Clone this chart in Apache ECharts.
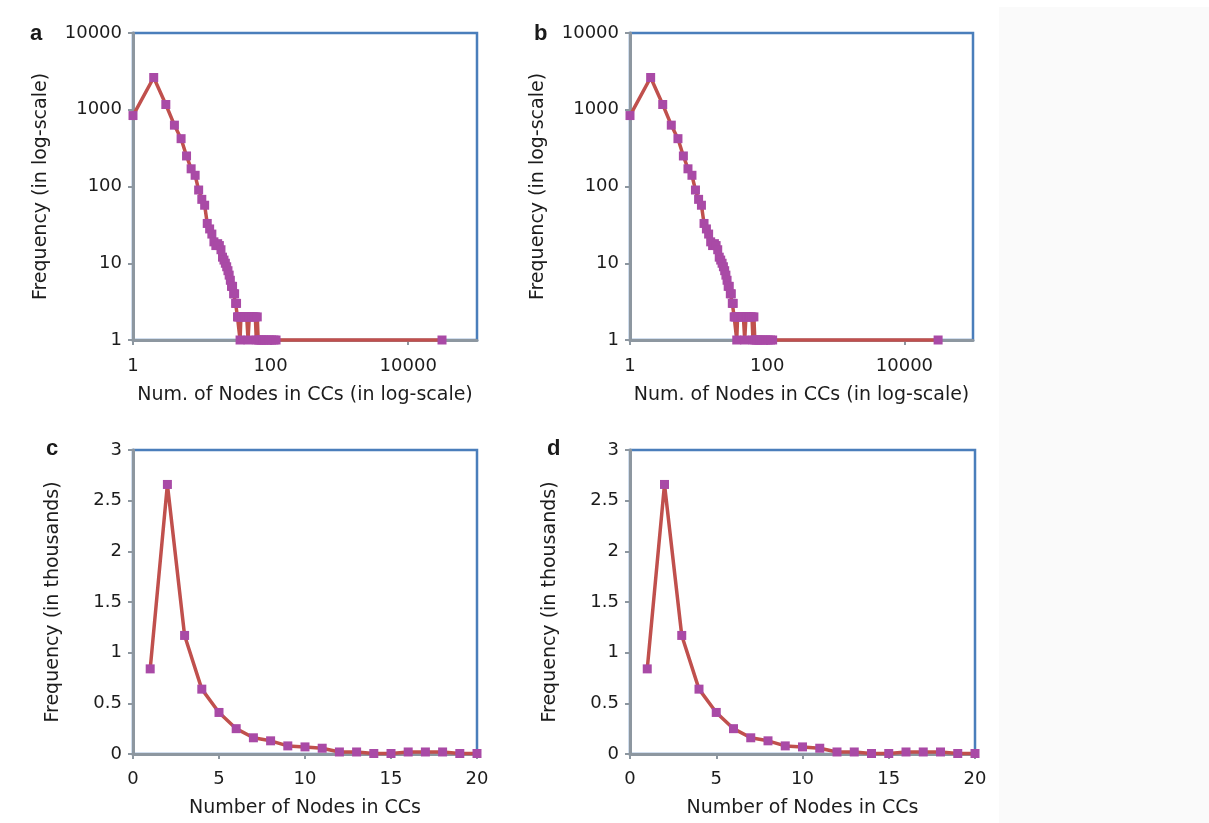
<!DOCTYPE html>
<html><head><meta charset="utf-8">
<script src="https://cdn.jsdelivr.net/npm/echarts@6/dist/echarts.min.js"></script>
<style>
html,body{margin:0;padding:0;background:#fff;}
#bg{position:absolute;left:999px;top:7px;width:210px;height:816px;background:#fafafa;}
#chart{position:absolute;left:0;top:0;width:1209px;height:823px;}
</style></head>
<body><div id="bg"></div><div id="chart"></div>
<script>
// ---- data ----
const logSizes = [1,2,3,4,5,6,7,8,9,10,11,12,13,14,15,16,17,18,19,20,21,22,23,24,25,26,27,28,29,30,31,32,
  33,34,35,36,37,39,41,43,45,47,49,51,54,57,60,62,64,66,70,74,78,83,88,95,103,112,120,31000];
const logFreq = [840,2630,1170,630,420,250,170,140,90,68,57,33,28,24,19,17,18,17,15,12,11,10,9,8,7,6,5,5,4,4,3,3,
  2,2,2,1,2,2,2,2,2,1,2,2,2,2,2,1,2,1,1,1,1,1,1,1,1,1,1,1];
const linSizes = [1,2,3,4,5,6,7,8,9,10,11,12,13,14,15,16,17,18,19,20];
const linFreqThousands = [0.84,2.66,1.17,0.64,0.41,0.25,0.16,0.13,0.08,0.07,0.057,0.02,0.02,0.005,0.005,0.02,0.02,0.02,0.005,0.005];
const panelLetters = ['a','b','c','d'];
const logXName = 'Num. of Nodes in CCs (in log-scale)';
const logYName = 'Frequency (in log-scale)';
const linXName = 'Number of Nodes in CCs';
const linYName = 'Frequency (in thousands)';

// ---- styling ----
const FONT = 'DejaVu Sans';
const AXIS_GRAY = '#8d97a0';
const BLUE = '#4a7ebb';
const LINE_RED = '#c0504d';
const MARK = '#a94aa6';
const TXT = '#1c1c1c';

const grids = [
  {left:133, top:33, width:344, height:307},
  {left:630, top:33, width:343, height:307},
  {left:133, top:450, width:344, height:304},
  {left:630, top:450, width:345, height:304}
].map(g => Object.assign({show:true, borderColor:BLUE, borderWidth:2.5, backgroundColor:'transparent'}, g));

function axisCommon(){
  return {
    axisLine:{show:true, lineStyle:{color:AXIS_GRAY, width:3}},
    axisTick:{show:true, length:5, inside:false, lineStyle:{color:AXIS_GRAY, width:2}},
    splitLine:{show:false},
    nameLocation:'middle',
    nameTextStyle:{fontFamily:FONT, fontSize:19, color:TXT},
  };
}
function fmt(v){ return String(Math.round(v)); }

const xAxes = [], yAxes = [];
[0,1].forEach(gi => {
  xAxes.push(Object.assign(axisCommon(), {
    type:'log', logBase:100, gridIndex:gi, min:1, max:100000,
    name:logXName, nameGap:46,
    axisLabel:{margin:17, fontFamily:FONT, fontSize:18, color:TXT, showMaxLabel:false,
      formatter:v => (v > 20000 ? '' : fmt(v))}
  }));
  yAxes.push(Object.assign(axisCommon(), {
    type:'log', logBase:10, gridIndex:gi, min:1, max:10000,
    name:logYName, nameGap:82,
    axisLabel:{margin:11, fontFamily:FONT, fontSize:18, color:TXT, formatter:fmt}
  }));
});
[2,3].forEach(gi => {
  xAxes.push(Object.assign(axisCommon(), {
    type:'value', gridIndex:gi, min:0, max:20, interval:5,
    name:linXName, nameGap:45,
    axisLabel:{margin:16, fontFamily:FONT, fontSize:18, color:TXT}
  }));
  yAxes.push(Object.assign(axisCommon(), {
    type:'value', gridIndex:gi, min:0, max:3, interval:0.5,
    name:linYName, nameGap:70,
    axisLabel:{margin:11, fontFamily:FONT, fontSize:18, color:TXT}
  }));
});

function mkSeries(gi, xs, ys){
  return {
    type:'line', xAxisIndex:gi, yAxisIndex:gi,
    data: xs.map((x,i) => [x, ys[i]]),
    symbol:'rect', symbolSize:9, showAllSymbol:true,
    lineStyle:{color:LINE_RED, width:3.5},
    itemStyle:{color:MARK},
    clip:false, silent:true
  };
}
const series = [
  mkSeries(0, logSizes, logFreq),
  mkSeries(1, logSizes, logFreq),
  mkSeries(2, linSizes, linFreqThousands),
  mkSeries(3, linSizes, linFreqThousands)
];

const letterPos = [[37,36],[541,36],[53,451],[554,451]];
const graphic = panelLetters.map((t,i) => ({
  type:'text', left:letterPos[i][0]-7, top:letterPos[i][1]-13,
  style:{text:t, font:'bold 22px "Liberation Sans"', fill:'#1a1a1a'}
}));

const chart = echarts.init(document.getElementById('chart'), null, {renderer:'canvas'});
chart.setOption({
  animation:false,
  backgroundColor:'transparent',
  grid:grids, xAxis:xAxes, yAxis:yAxes, series:series, graphic:graphic
});
</script></body></html>
